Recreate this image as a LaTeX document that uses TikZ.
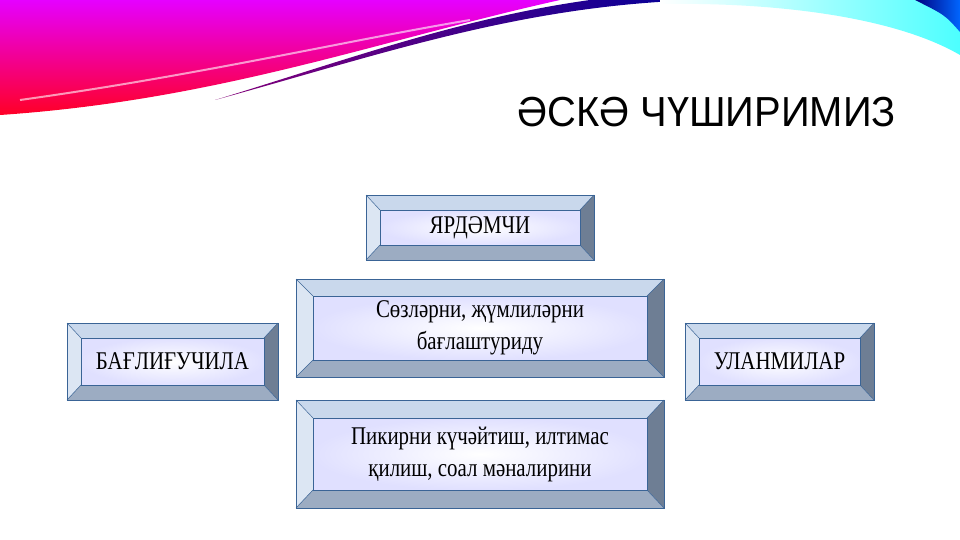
\documentclass[tikz,border=0pt]{standalone}
\usepackage{fontspec}
\setmainfont{Liberation Serif}[FakeStretch=0.82]
\newfontfamily\titlefont{Liberation Sans}[FakeStretch=0.95]
\begin{document}
\begin{tikzpicture}[x=1pt,y=-1pt]
\definecolor{bevtop}{HTML}{C9D8EC}
\definecolor{bevleft}{HTML}{DCE6F3}
\definecolor{bevright}{HTML}{6E7E94}
\definecolor{bevbot}{HTML}{9CACC2}
\definecolor{edge}{HTML}{3A6496}
\useasboundingbox (0,0) rectangle (960,540);
\fill[white] (0,0) rectangle (960,540);
% swooshes
\shade[top color=magenta!90!blue, bottom color=red!85!magenta]
  (0,0) -- (560,0) .. controls (380,40) and (220,100) .. (0,115) -- cycle;
\draw[white, opacity=0.6, line width=2pt] (20,100) .. controls (200,75) and (350,40) .. (470,20);
\shade[left color=purple!70!blue, right color=blue!60!black]
  (215,100) .. controls (380,55) and (520,5) .. (700,0) -- (590,0) .. controls (460,18) and (340,62) .. (215,100) -- cycle;
\shade[left color=white, right color=cyan!70!white]
  (660,0) -- (960,0) -- (960,55) .. controls (900,20) and (790,2) .. (660,4) -- cycle;
\shade[left color=blue!50!black, right color=cyan!40!blue]
  (915,0) -- (960,0) -- (960,32) .. controls (945,15) .. (915,0) -- cycle;
\node[font=\titlefont\fontsize{42}{42}\selectfont, anchor=east, inner sep=0pt] (title) at (896,112) {ӘСКӘ ЧҮШИРИМИЗ};
% bevel boxes
\newcommand\bevbox[8]{%
  \fill[bevtop] (#2,#3) -- (#4,#3) -- (#4-#6,#3+#7) -- (#2+#6,#3+#7) -- cycle;
  \fill[bevleft] (#2,#3) -- (#2+#6,#3+#7) -- (#2+#6,#5-#7) -- (#2,#5) -- cycle;
  \fill[bevright] (#4,#3) -- (#4,#5) -- (#4-#6,#5-#7) -- (#4-#6,#3+#7) -- cycle;
  \fill[bevbot] (#2,#5) -- (#4,#5) -- (#4-#6,#5-#7) -- (#2+#6,#5-#7) -- cycle;
  \shade[inner color=white, outer color=blue!12!white] (#2+#6,#3+#7) rectangle (#4-#6,#5-#7);
  \draw[edge, line width=0.8pt] (#2,#3) rectangle (#4,#5);
  \draw[edge, line width=0.8pt] (#2+#6,#3+#7) rectangle (#4-#6,#5-#7);
  \draw[edge, line width=0.5pt] (#2,#3) -- (#2+#6,#3+#7) (#4,#3) -- (#4-#6,#3+#7)
     (#2,#5) -- (#2+#6,#5-#7) (#4,#5) -- (#4-#6,#5-#7);
  \node[align=center, font=\fontsize{25.5}{32}\selectfont] (#1) at ({(#2+#4)/2},{(#3+#5)/2}) {#8};
}
\bevbox{a}{366}{195}{594}{260}{14}{15}{ЯРДӘМЧИ}
\bevbox{b}{296}{279}{664}{377}{17}{17}{Сөзләрни, җүмлиләрни\\бағлаштуриду}
\bevbox{c}{296}{400}{664}{508}{17}{18}{Пикирни күчәйтиш, илтимас\\қилиш, соал мәналирини}
\bevbox{d}{67}{323}{278}{400}{14}{15}{БАҒЛИҒУЧИЛА}
\bevbox{e}{685}{323}{874}{400}{14}{15}{УЛАНМИЛАР}
\end{tikzpicture}
\end{document}
